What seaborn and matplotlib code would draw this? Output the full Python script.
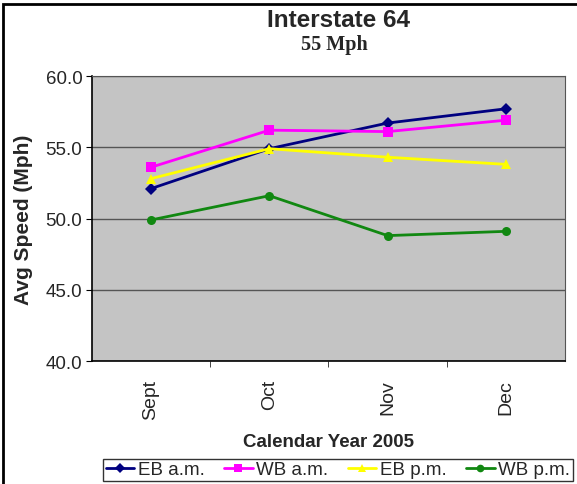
import pandas as pd
import matplotlib
matplotlib.use("Agg")
import matplotlib.pyplot as plt
import seaborn as sns

# data
months = ["Sept", "Oct", "Nov", "Dec"]
eb_am = [52.1, 54.9, 56.7, 57.7]
wb_am = [53.6, 56.2, 56.1, 56.9]
eb_pm = [52.8, 54.9, 54.3, 53.8]
wb_pm = [49.9, 51.6, 48.8, 49.1]
series_names = ["EB a.m.", "WB a.m.", "EB p.m.", "WB p.m."]
y_ticks = [40.0, 45.0, 50.0, 55.0, 60.0]

colors = ["#000080", "#ff00ff", "#ffff00", "#118811"]
markers = ["D", "s", "^", "o"]

rows = []
for name, vals in zip(series_names, [eb_am, wb_am, eb_pm, wb_pm]):
    for m, v in zip(months, vals):
        rows.append({"Month": m, "Speed": v, "Series": name})
df = pd.DataFrame(rows)

sns.set_style("white")
plt.rcParams["font.family"] = ["Liberation Sans", "DejaVu Sans"]

fig = plt.figure(figsize=(5.77, 4.85), dpi=100)
ax = fig.add_axes([0.1594, 0.2536, 0.8198, 0.5876])
ax.set_facecolor("#c4c4c4")

sns.lineplot(
    data=df, x="Month", y="Speed", hue="Series", style="Series",
    palette=colors, markers=markers, dashes=False, markersize=6.5,
    linewidth=2, markeredgewidth=0, sort=False, ax=ax, legend=False
)

ax.set_xlim(-0.5, len(months) - 0.5)
ax.set_ylim(40, 60)
ax.set_yticks(y_ticks)
ax.set_yticklabels([f"{t:.1f}" for t in y_ticks], fontsize=13.5)
ax.set_xticks(range(len(months)))
ax.set_xticklabels(months, rotation=90, fontsize=14)
ax.grid(axis="y", color="#555555", linewidth=1)
ax.set_axisbelow(True)
ax.tick_params(axis="x", length=0, pad=13)
ax.tick_params(axis="y", length=4, color="black", left=True, pad=3)
# small ticks between categories
ax.set_xticks([0.5, 1.5, 2.5], minor=True)
ax.tick_params(axis="x", which="minor", length=4, bottom=True)
for side in ["top", "right"]:
    ax.spines[side].set_color("#555555")
for side in ["left", "bottom"]:
    ax.spines[side].set_color("black")
    ax.spines[side].set_linewidth(1.2)

ax.set_xlabel("Calendar Year 2005", fontsize=13.5, fontweight="bold", labelpad=10)
ax.set_ylabel("Avg Speed (Mph)", fontsize=15, fontweight="bold", labelpad=9)

fig.text(0.5875, 0.957, "Interstate 64", ha="center", va="center",
         fontsize=17.5, fontweight="bold")
fig.text(0.58, 0.907, "55 Mph", ha="center", va="center",
         fontsize=14.5, fontweight="bold", family=["Liberation Serif", "DejaVu Serif"])

handles = [
    plt.Line2D([], [], color=c, marker=mk, markersize=5.5, linewidth=2, markeredgewidth=0)
    for c, mk in zip(colors, markers)
]
leg = fig.legend(
    handles, series_names, loc="center", bbox_to_anchor=(0.586, 0.029),
    ncol=4, frameon=True, fancybox=False, fontsize=13.5, handlelength=1.5,
    handletextpad=0.2, columnspacing=1.05, borderpad=0.15, borderaxespad=0
)
leg.get_frame().set_edgecolor("black")
leg.get_frame().set_linewidth(1)

# outer chart border (right and bottom edges fall outside the picture)
fig.patches.append(plt.Rectangle((0.005, -0.1), 1.2, 1.09, transform=fig.transFigure,
                                 fill=False, edgecolor="black", linewidth=2))

fig.savefig("out.png", dpi=100, facecolor="white")
